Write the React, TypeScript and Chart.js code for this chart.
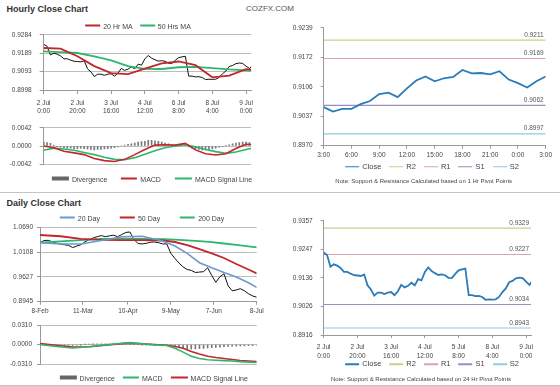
import React, { useEffect, useRef } from 'react';
import { Chart, registerables } from 'chart.js';

Chart.register(...registerables);

const FONT = "'Liberation Sans', Arial, sans-serif";
Chart.defaults.font.family = FONT;
Chart.defaults.font.size = 6.5;
Chart.defaults.color = '#444';

// ---------- colours ----------
const RED = '#c1272d';
const GREEN = '#2fb66e';
const BLUE = '#6a9ad0';
const CLOSE_BLUE = '#2b7bb9';
const DIV_GREY = '#666666';
const PIVOT_COLORS = ['#cdcd8c', '#dba4a8', '#9a8ec4', '#8ecbe0'];

// ---------- hourly data (2 Jul 0:00 -> 9 Jul, every 2 hours) ----------
const hourlyClose = [
  0.9235, 0.9225, 0.9180, 0.9189, 0.9184, 0.9175, 0.9160, 0.9160, 0.9153, 0.9147,
  0.9146, 0.9144, 0.9150, 0.9108, 0.9092, 0.9068, 0.9080, 0.9080, 0.9074, 0.9080,
  0.9082, 0.9070, 0.9085, 0.9110, 0.9100, 0.9106, 0.9118, 0.9108, 0.9132, 0.9127,
  0.9160, 0.9177, 0.9163, 0.9155, 0.9148, 0.9150, 0.9147, 0.9137, 0.9136, 0.9152,
  0.9166, 0.9170, 0.9173, 0.9070, 0.9070, 0.9066, 0.9067, 0.9063, 0.9052, 0.9054,
  0.9053, 0.9054, 0.9063, 0.9082, 0.9096, 0.9120, 0.9125, 0.9135, 0.9138, 0.9136,
  0.9122, 0.9110, 0.9127,
];
const hourlyCloseHours = hourlyClose.map((_, i) => i * 2);

const hourlyMaNames = ['20 Hr MA', '50 Hrs MA'];
const hourlyMaHours = [0, 10, 20, 30, 40, 50, 60, 70, 80, 90, 100, 110, 120, 124];
const hourlyMa20 = [0.9216, 0.9213, 0.9173, 0.9122, 0.9086, 0.9080, 0.9109, 0.9136, 0.9146, 0.9127, 0.9064, 0.9073, 0.9106, 0.9104];
const hourlyMa50 = [0.9199, 0.9195, 0.9190, 0.9172, 0.9152, 0.9122, 0.9108, 0.9107, 0.9116, 0.9118, 0.9112, 0.9105, 0.9100, 0.9099];

const macdNames = ['Divergence', 'MACD', 'MACD Signal Line'];
const hourlyMacdHours = [0, 6, 12, 18, 24, 30, 36, 42, 48, 54, 60, 66, 72, 78, 84, 90, 96, 102, 108, 114, 120, 124];
const hourlyMacd = [0.0000, -0.0004, -0.0012, -0.0016, -0.0020, -0.0029, -0.0034, -0.0036, -0.0031, -0.0020, -0.0008, 0.0002, 0.0003, 0.0002, 0.0006, -0.0009, -0.0018, -0.0021, -0.0018, -0.0006, 0.0004, 0.0003];
const hourlySignal = [-0.0010, -0.0005, -0.0007, -0.0010, -0.0015, -0.0020, -0.0026, -0.0031, -0.0032, -0.0027, -0.0019, -0.0011, -0.0004, 0.0000, 0.0003, -0.0002, -0.0008, -0.0013, -0.0017, -0.0014, -0.0008, -0.0005];
const hourlyDivergence = [
  0.0009, 0.0008, 0.0006, 0.0002, -0.0001, -0.0003, -0.0004, -0.0005, -0.0005, -0.0006,
  -0.0006, -0.0005, -0.0006, -0.0007, -0.0008, -0.0009, -0.0008, -0.0008, -0.0007, -0.0006,
  -0.0005, -0.0004, -0.0002, 0.0000, 0.0002, 0.0004, 0.0005, 0.0007, 0.0009, 0.0010,
  0.0011, 0.0013, 0.0013, 0.0012, 0.0011, 0.0009, 0.0007, 0.0005, 0.0003, 0.0002,
  0.0003, 0.0004, 0.0002, -0.0002, -0.0005, -0.0007, -0.0008, -0.0009, -0.0009, -0.0008,
  -0.0007, -0.0005, -0.0003, -0.0001, 0.0001, 0.0003, 0.0005, 0.0007, 0.0008, 0.0009,
  0.0009, 0.0008, 0.0007,
];

const hourlyTickHours = [0, 20, 40, 60, 80, 100, 120];
const hourlyTickLabels = [['2 Jul', '0:00'], ['2 Jul', '20:00'], ['3 Jul', '16:00'], ['4 Jul', '12:00'], ['6 Jul', '8:00'], ['8 Jul', '4:00'], ['9 Jul', '0:00']];
const hourlyPivotTickLabels = [['2 Jul', '0:00'], ['2 Jul', '20:00'], ['3 Jul', '16:00'], ['4 Jul', '12:00'], ['5 Jul', '8:00'], ['8 Jul', '4:00'], ['9 Jul', '0:00']];
const hourlyPriceTicks = ['0.8998', '0.9093', '0.9189', '0.9284'];
const hourlyMacdTicks = ['-0.0042', '0.0000', '0.0042'];

// ---------- 1 hour pivot chart (last 24 hours) ----------
const lastDayClose = [0.9058, 0.9048, 0.9054, 0.9054, 0.9065, 0.9072, 0.9088, 0.9091, 0.9081, 0.9101, 0.9119, 0.9128, 0.9117, 0.9124, 0.9127, 0.9143, 0.9135, 0.9136, 0.9133, 0.9140, 0.9121, 0.9113, 0.9103, 0.9117, 0.9128];
const lastDayTickIdx = [0, 3, 6, 9, 12, 15, 18, 21, 24];
const lastDayTickLabels = ['3:00', '6:00', '9:00', '12:00', '15:00', '18:00', '21:00', '0:00', '3:00'];
const pivotNames = ['R2', 'R1', 'S1', 'S2'];
const hourPivotLevels = [0.9211, 0.9169, 0.9062, 0.8997];
const hourPivotTicks = ['0.8970', '0.9037', '0.9106', '0.9172', '0.9239'];
const dayPivotLevels = [0.9329, 0.9227, 0.9034, 0.8943];
const dayPivotTicks = ['0.8916', '0.9026', '0.9136', '0.9247', '0.9357'];

// ---------- daily data (business days from 8-Feb, every 2 days) ----------
const dailyClose = [
  1.0330, 1.0380, 1.0385, 1.0350, 1.0320, 1.0295, 1.0280, 1.0265, 1.0215, 1.0250,
  1.0280, 1.0350, 1.0400, 1.0440, 1.0470, 1.0495, 1.0470, 1.0490, 1.0505, 1.0470,
  1.0520, 1.0570, 1.0580, 1.0400, 1.0310, 1.0300, 1.0315, 1.0340, 1.0345, 1.0330,
  1.0300, 1.0300, 1.0080, 0.9960, 0.9850, 0.9760, 0.9700, 0.9680, 0.9630, 0.9640,
  0.9650, 0.9740, 0.9560, 0.9400, 0.9530, 0.9600, 0.9320, 0.9200, 0.9220, 0.9250,
  0.9200, 0.9130, 0.9080, 0.9050,
];
const dailyCloseDays = dailyClose.map((_, i) => i * 2);

const dailyMaNames = ['20 Day', '50 Day', '200 Day'];
const dailyMaDays = [0, 10, 20, 30, 40, 50, 60, 66, 72, 78, 84, 90, 96, 102, 106];
const dailyMa20 = [1.0330, 1.0300, 1.0300, 1.0380, 1.0470, 1.0480, 1.0370, 1.0250, 1.0080, 0.9860, 0.9740, 0.9630, 0.9525, 0.9390, 0.9280];
const dailyMa50 = [1.0510, 1.0480, 1.0420, 1.0395, 1.0390, 1.0390, 1.0380, 1.0345, 1.0270, 1.0180, 1.0080, 0.9970, 0.9830, 0.9700, 0.9610];
const dailyMa200 = [1.0330, 1.0360, 1.0390, 1.0420, 1.0425, 1.0420, 1.0410, 1.0400, 1.0385, 1.0365, 1.0340, 1.0310, 1.0280, 1.0245, 1.0220];

const dailyMacdDays = [0, 8, 16, 24, 32, 40, 44, 50, 56, 62, 66, 70, 74, 78, 82, 86, 90, 94, 98, 102, 106];
const dailyMacd = [0.0000, -0.0030, -0.0055, -0.0035, -0.0005, 0.0020, 0.0030, 0.0010, -0.0005, -0.0015, -0.0060, -0.0120, -0.0185, -0.0220, -0.0240, -0.0248, -0.0255, -0.0262, -0.0270, -0.0278, -0.0285];
const dailySignal = [0.0014, -0.0010, -0.0040, -0.0035, -0.0012, 0.0015, 0.0022, 0.0012, 0.0000, -0.0010, -0.0030, -0.0060, -0.0110, -0.0150, -0.0185, -0.0205, -0.0222, -0.0238, -0.0252, -0.0262, -0.0270];
const dailyDivergence = [
  -0.0010, -0.0012, -0.0015, -0.0018, -0.0020, -0.0018, -0.0016, -0.0015, -0.0014, -0.0008,
  -0.0002, 0.0004, 0.0008, 0.0010, 0.0012, 0.0012, 0.0010, 0.0008, 0.0008, 0.0007,
  0.0005, 0.0006, 0.0008, 0.0004, 0.0000, -0.0002, -0.0004, -0.0005, -0.0005, -0.0005,
  -0.0005, -0.0006, -0.0020, -0.0032, -0.0050, -0.0060, -0.0070, -0.0072, -0.0070, -0.0066,
  -0.0060, -0.0055, -0.0050, -0.0045, -0.0040, -0.0035, -0.0030, -0.0027, -0.0025, -0.0022,
  -0.0020, -0.0018, -0.0016, -0.0015,
];

const dailyTickDays = [0, 21, 43, 64, 85, 106];
const dailyTickLabels = ['8-Feb', '11-Mar', '10-Apr', '9-May', '7-Jun', '8-Jul'];
const dailyPriceTicks = ['0.8945', '0.9627', '1.0108', '1.0690'];
const dailyMacdTicks = ['-0.0310', '0.0000', '0.0310'];

// ---------- helpers ----------
const pts = (xs: number[], ys: number[]) => ys.map((y, i) => ({ x: xs[i], y }));

function yAxis(labels: string[], width: number, grid: boolean, tickLength: number, padding: number) {
  const lo = Number(labels[0]);
  const hi = Number(labels[labels.length - 1]);
  return {
    type: 'linear',
    min: lo,
    max: hi,
    bounds: 'data',
    afterBuildTicks: (s: any) => {
      s.ticks = labels.map((_, i) => ({ value: lo + ((hi - lo) * i) / (labels.length - 1) }));
    },
    afterFit: (s: any) => {
      s.width = width;
    },
    ticks: { callback: (_v: any, i: number) => labels[i], padding, autoSkip: false, color: '#444', font: { size: 6.5 } },
    grid: { drawOnChartArea: grid, color: '#bdbdbd', tickColor: '#999', tickLength, offset: false },
    border: { color: '#999' },
  };
}

function xAxis(positions: number[], labels: any[], max: number, height: number, tickLength: number, padding: number, lineHeight: number) {
  return {
    type: 'linear',
    min: positions[0],
    max,
    bounds: 'data',
    offset: false,
    afterBuildTicks: (s: any) => {
      s.ticks = positions.map((v) => ({ value: v }));
    },
    afterFit: (s: any) => {
      s.height = height;
    },
    ticks: {
      callback: (_v: any, i: number) => labels[i],
      autoSkip: false,
      maxRotation: 0,
      minRotation: 0,
      padding,
      color: '#444',
      font: { size: 6.5, lineHeight },
    },
    grid: { drawOnChartArea: false, color: '#999', tickLength, offset: false },
    border: { color: '#999' },
  };
}

const hiddenX = (max: number) => ({ type: 'linear', min: 0, max, bounds: 'data', offset: false, display: false, grid: { offset: false } });

const pivotLabelPlugin = {
  id: 'pivotLabels',
  afterDatasetsDraw(chart: any) {
    const { ctx, chartArea, scales } = chart;
    ctx.save();
    ctx.font = `6.5px ${FONT}`;
    ctx.fillStyle = '#555';
    ctx.textAlign = 'right';
    ctx.textBaseline = 'alphabetic';
    chart.data.datasets.forEach((ds: any) => {
      if (ds.pivotValue === undefined) return;
      const y = scales.y.getPixelForValue(ds.pivotValue);
      ctx.fillText(ds.pivotValue.toFixed(4), chartArea.right - 2, y - 3.5);
    });
    ctx.restore();
  },
};

function baseOptions(padding: any) {
  return {
    responsive: false,
    animation: false,
    events: [],
    layout: { padding },
    plugins: { legend: { display: false }, tooltip: { enabled: false } },
    elements: { point: { radius: 0 }, line: { tension: 0 } },
  };
}

const line = (label: string, data: any[], color: string, width: number) => ({
  type: 'line',
  label,
  data,
  borderColor: color,
  backgroundColor: color,
  borderWidth: width,
  pointRadius: 0,
  fill: false,
});

const bars = (label: string, data: any[], color: string) => ({
  type: 'bar',
  label,
  data,
  backgroundColor: color,
  borderWidth: 0,
  barThickness: 1,
});

// ---------- chart configs ----------
const HOUR_MAX = 123;
const DAY_MAX = 106;

const configA = () => ({
  type: 'line',
  data: {
    datasets: [
      line(hourlyMaNames[0], pts(hourlyMaHours, hourlyMa20), RED, 1.8),
      line(hourlyMaNames[1], pts(hourlyMaHours, hourlyMa50), GREEN, 1.8),
      line('Close', pts(hourlyCloseHours, hourlyClose), '#111', 1),
    ],
  },
  options: {
    ...baseOptions({ top: 10.3, right: 10.9, bottom: 0, left: 0 }),
    scales: {
      x: xAxis(hourlyTickHours, hourlyTickLabels, HOUR_MAX, 28, 4, 5, 1.25),
      y: yAxis(hourlyPriceTicks, 43.7, true, 4, 8),
    },
  },
});

const configB = () => ({
  type: 'line',
  data: {
    datasets: [
      line(macdNames[1], pts(hourlyMacdHours, hourlyMacd), RED, 1.6),
      line(macdNames[2], pts(hourlyMacdHours, hourlySignal), GREEN, 1.6),
      bars(macdNames[0], pts(hourlyCloseHours, hourlyDivergence), '#777'),
    ],
  },
  options: {
    ...baseOptions({ top: 10, right: 10.9, bottom: 6, left: 0 }),
    scales: {
      x: hiddenX(HOUR_MAX),
      y: yAxis(hourlyMacdTicks, 43.7, true, 4, 8),
    },
  },
});

const pivotSets = (levels: number[], max: number) =>
  levels.map((v, i) => ({
    ...line(pivotNames[i], [{ x: 0, y: v }, { x: max, y: v }], PIVOT_COLORS[i], 1.1),
    pivotValue: v,
  }));

const configC = () => ({
  type: 'line',
  data: {
    datasets: [
      line('Close', pts(lastDayClose.map((_, i) => i), lastDayClose), CLOSE_BLUE, 1.8),
      ...pivotSets(hourPivotLevels, 24),
    ],
  },
  options: {
    ...baseOptions({ top: 10.7, right: 14.3, bottom: 0, left: 0 }),
    scales: {
      x: xAxis(lastDayTickIdx, lastDayTickLabels, 24, 13.3, 3, 3, 1.2),
      y: yAxis(hourPivotTicks, 53.7, false, 3, 8),
    },
  },
  plugins: [pivotLabelPlugin],
});

const configD = () => ({
  type: 'line',
  data: {
    datasets: [
      line(dailyMaNames[0], pts(dailyMaDays, dailyMa20), BLUE, 1.6),
      line(dailyMaNames[1], pts(dailyMaDays, dailyMa50), RED, 1.8),
      line(dailyMaNames[2], pts(dailyMaDays, dailyMa200), GREEN, 1.8),
      line('Close', pts(dailyCloseDays, dailyClose), '#111', 1),
    ],
  },
  options: {
    ...baseOptions({ top: 10.3, right: 18.3, bottom: 0, left: 0 }),
    scales: {
      x: xAxis(dailyTickDays, dailyTickLabels, DAY_MAX, 15.3, 3, 3, 1.2),
      y: yAxis(dailyPriceTicks, 40, true, 3, 4),
    },
  },
});

const configE = () => ({
  type: 'line',
  data: {
    datasets: [
      line(macdNames[1], pts(dailyMacdDays, dailyMacd), GREEN, 1.6),
      line(macdNames[2], pts(dailyMacdDays, dailySignal), RED, 1.6),
      bars(macdNames[0], pts(dailyCloseDays, dailyDivergence), '#777'),
    ],
  },
  options: {
    ...baseOptions({ top: 10, right: 18.3, bottom: 4.7, left: 0 }),
    scales: {
      x: hiddenX(DAY_MAX),
      y: yAxis(dailyMacdTicks, 40, true, 3, 5),
    },
  },
});

const configF = () => ({
  type: 'line',
  data: {
    datasets: [
      line('Close', pts(hourlyCloseHours, hourlyClose), CLOSE_BLUE, 1.8),
      ...pivotSets(dayPivotLevels, HOUR_MAX),
    ],
  },
  options: {
    ...baseOptions({ top: 10.7, right: 28.9, bottom: 0, left: 0 }),
    scales: {
      x: xAxis(hourlyTickHours, hourlyPivotTickLabels, HOUR_MAX, 26, 3, 4, 1.5),
      y: yAxis(dayPivotTicks, 53.7, false, 3, 8),
    },
  },
  plugins: [pivotLabelPlugin],
});

// ---------- components ----------
function ChartBox({ left, top, width, height, make }: any) {
  const ref = useRef<HTMLCanvasElement>(null);
  useEffect(() => {
    const chart = new Chart(ref.current as HTMLCanvasElement, make() as any);
    return () => chart.destroy();
  }, []);
  return (
    <canvas
      ref={ref}
      width={width}
      height={height}
      style={{ position: 'absolute', left, top, width, height }}
    />
  );
}

function Legend({ cx, cy, items, gap, size }: any) {
  return (
    <div
      style={{
        position: 'absolute',
        left: cx,
        top: cy,
        transform: 'translate(-50%, -50%)',
        display: 'flex',
        alignItems: 'center',
        gap,
        whiteSpace: 'nowrap',
        font: `${size}px ${FONT}`,
        color: '#444',
        lineHeight: 1,
      }}
    >
      {items.map((it: any, i: number) => (
        <div key={i} style={{ display: 'flex', alignItems: 'center' }}>
          <span
            style={{
              display: 'inline-block',
              width: it.w || 15,
              height: it.thick ? 4 : 1.8,
              background: it.color,
              marginRight: 3,
            }}
          />
          {it.label}
        </div>
      ))}
    </div>
  );
}

function Text({ left, top, children, style }: any) {
  return (
    <div style={{ position: 'absolute', left, top, whiteSpace: 'nowrap', fontFamily: FONT, lineHeight: '10px', ...style }}>
      {children}
    </div>
  );
}

export default function App() {
  const pivotLegend = [
    { label: 'Close', color: CLOSE_BLUE, w: 14 },
    ...pivotNames.map((n, i) => ({ label: n, color: PIVOT_COLORS[i], w: 14 })),
  ];
  return (
    <div style={{ position: 'absolute', left: 0, top: 0, width: 560, height: 386, background: '#fff', overflow: 'hidden' }}>
      <Text left={6.5} top={3.5} style={{ fontSize: 9, fontWeight: 'bold', color: '#333' }}>Hourly Close Chart</Text>
      <Text left={246} top={4} style={{ fontSize: 8, color: '#555' }}>COZFX.COM</Text>
      <Text left={6.5} top={197.5} style={{ fontSize: 9, fontWeight: 'bold', color: '#333' }}>Daily Close Chart</Text>

      <div style={{ position: 'absolute', left: 0, top: 191.5, width: 560, height: 1, background: '#c4c4c4' }} />
      <div style={{ position: 'absolute', left: 0, top: 384.5, width: 560, height: 1, background: '#c4c4c4' }} />

      <ChartBox left={0} top={23} width={262} height={95} make={configA} />
      <ChartBox left={0} top={116} width={262} height={60} make={configB} />
      <ChartBox left={270} top={16} width={290} height={143} make={configC} />
      <ChartBox left={0} top={217} width={275} height={100} make={configD} />
      <ChartBox left={0} top={315} width={275} height={58} make={configE} />
      <ChartBox left={270} top={209} width={290} height={152} make={configF} />

      <Legend cx={138} cy={25.5} gap={7} size={7}
        items={[{ label: hourlyMaNames[0], color: RED }, { label: hourlyMaNames[1], color: GREEN }]} />
      <Legend cx={152} cy={178.5} gap={14} size={7}
        items={[
          { label: macdNames[0], color: DIV_GREY, thick: true, w: 17 },
          { label: macdNames[1], color: RED, w: 16 },
          { label: macdNames[2], color: GREEN, w: 17 },
        ]} />
      <Legend cx={432} cy={166.7} gap={8} size={7.5} items={pivotLegend} />
      <Text left={423.7} top={175.5} style={{ fontSize: 6, color: '#444', transform: 'translateX(-50%)' }}>
        Note: Support &amp; Resistance Calculated based on 1 Hr Pivot Points
      </Text>

      <Legend cx={142} cy={217.5} gap={20} size={7}
        items={dailyMaNames.map((n, i) => ({ label: n, color: [BLUE, RED, GREEN][i] }))} />
      <Legend cx={153.7} cy={377.7} gap={8} size={7}
        items={[
          { label: macdNames[0], color: DIV_GREY, thick: true, w: 17 },
          { label: macdNames[1], color: GREEN, w: 16 },
          { label: macdNames[2], color: RED, w: 17 },
        ]} />
      <Legend cx={432} cy={364} gap={8} size={7.5} items={pivotLegend} />
      <Text left={421} top={373.5} style={{ fontSize: 6, color: '#444', transform: 'translateX(-50%)' }}>
        Note: Support &amp; Resistance Calculated based on 24 Hr Pivot Points
      </Text>
    </div>
  );
}
